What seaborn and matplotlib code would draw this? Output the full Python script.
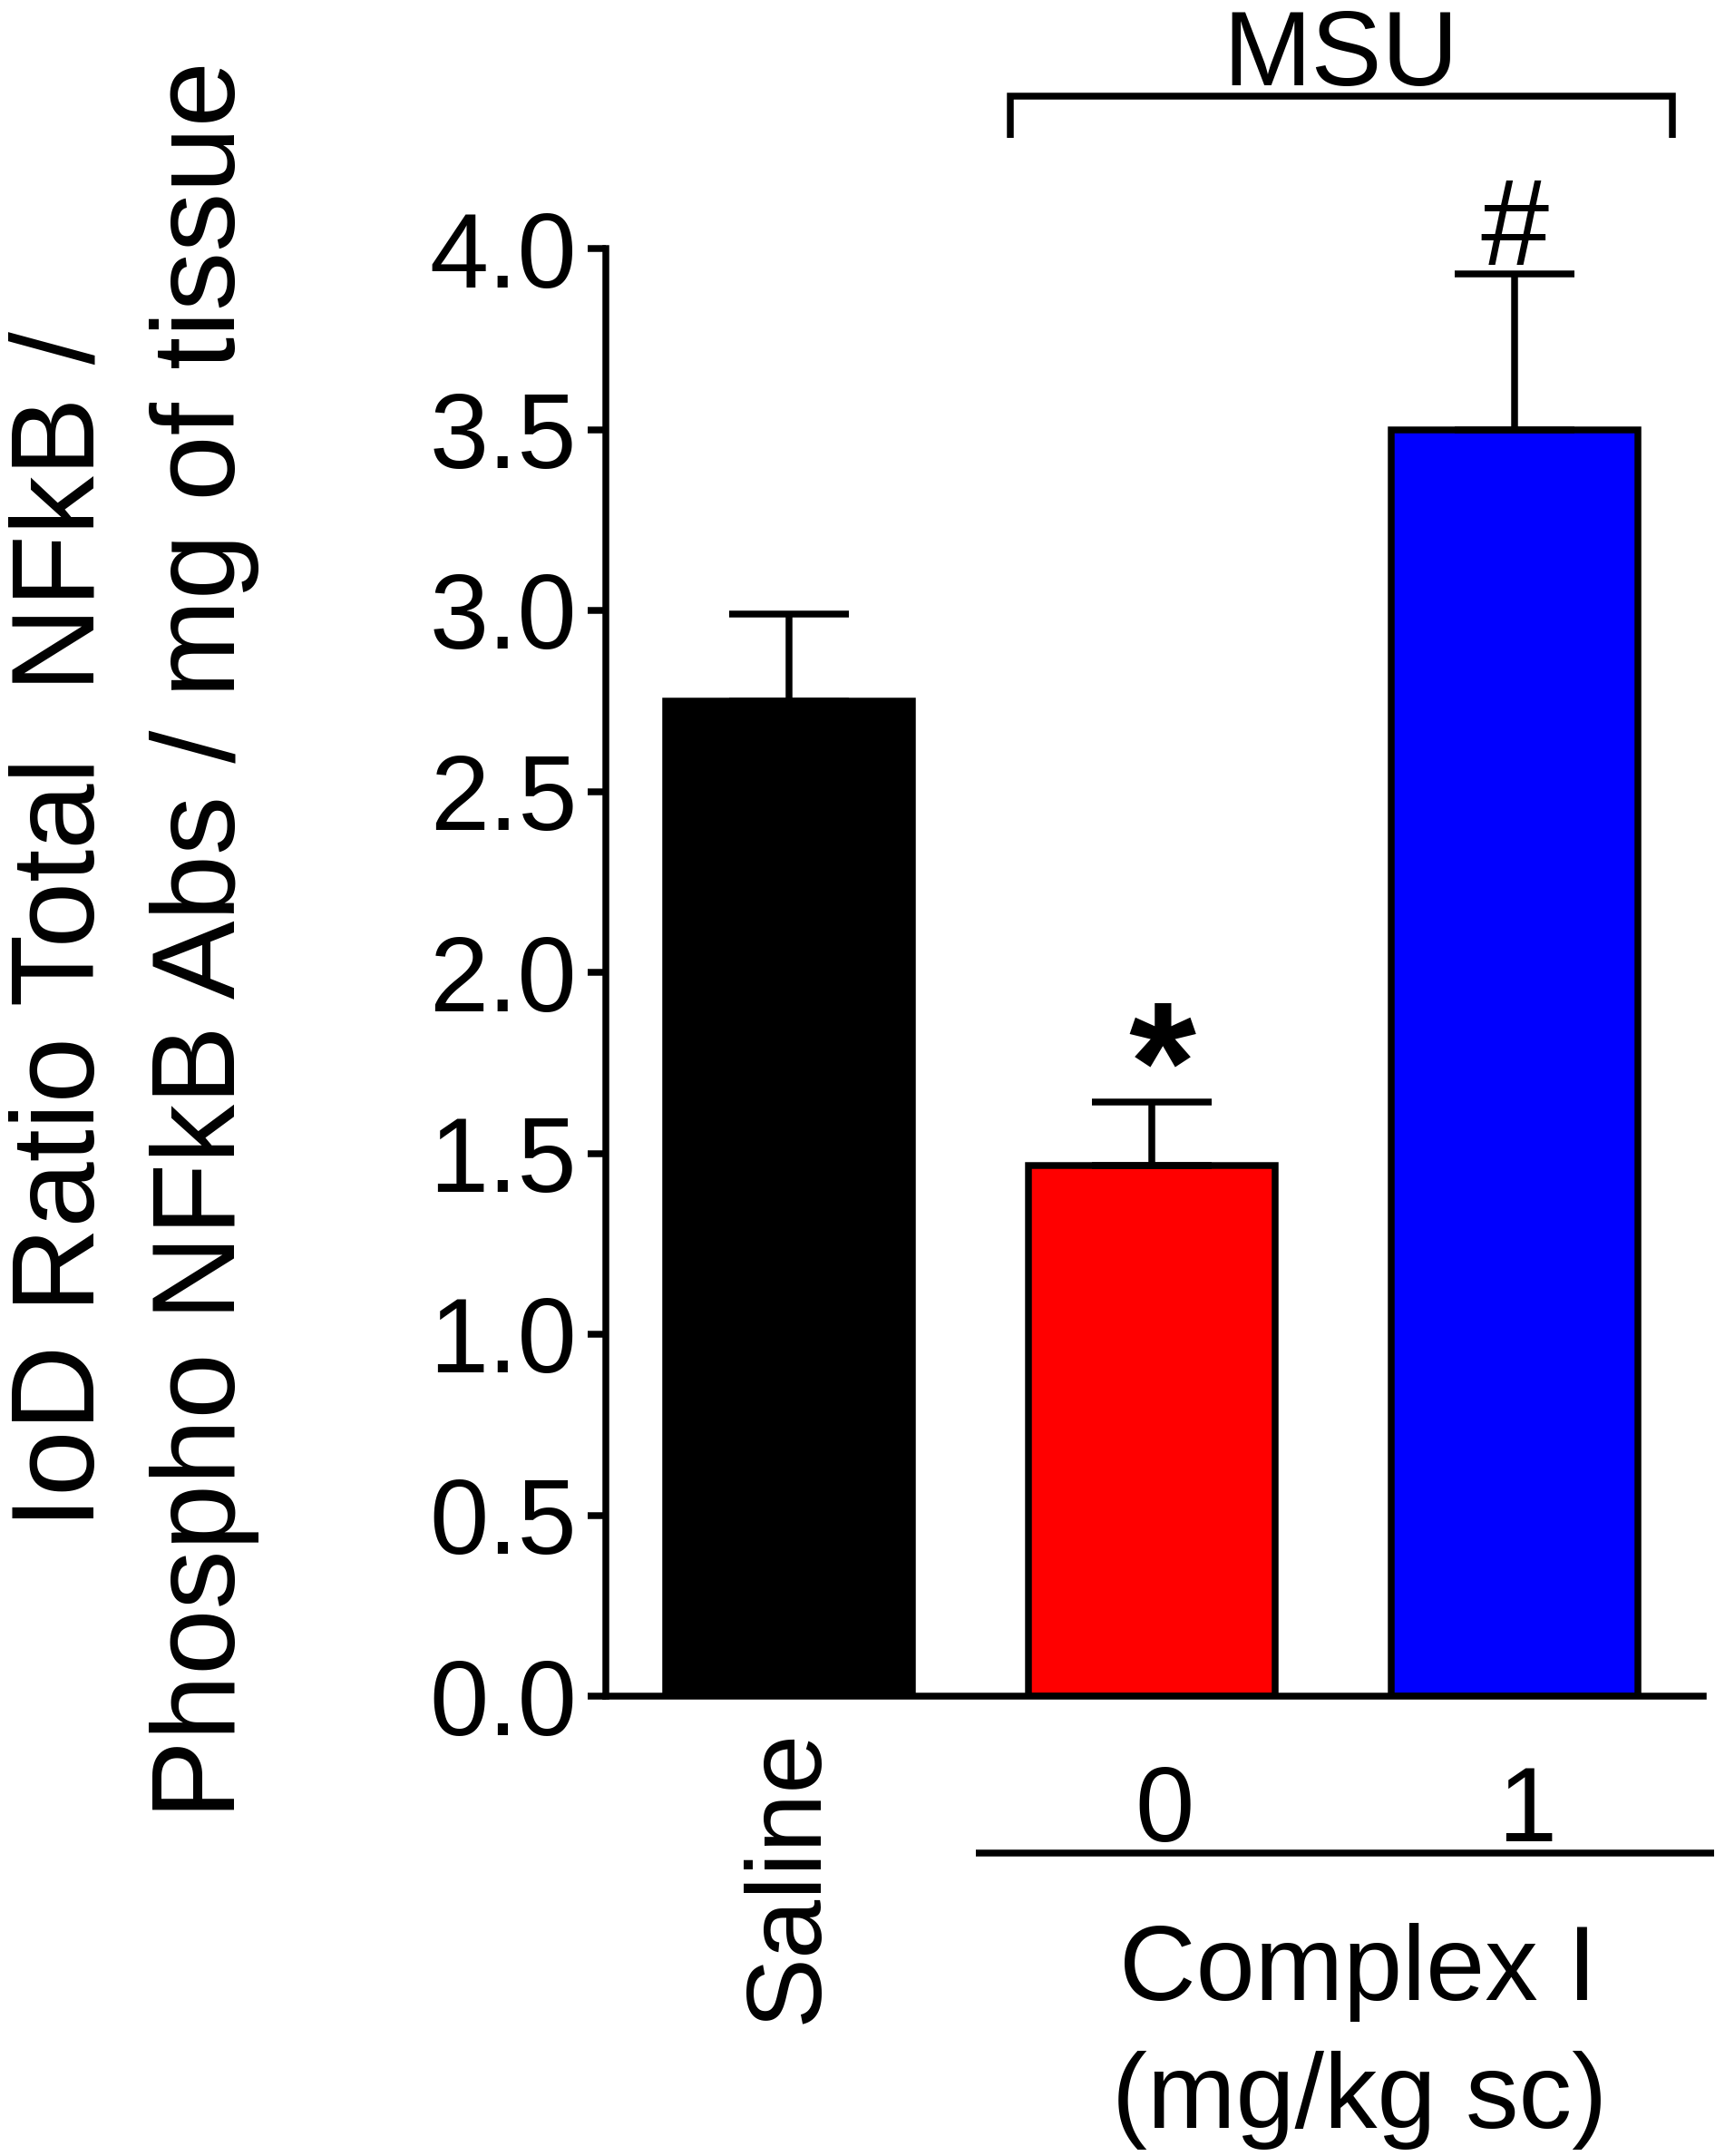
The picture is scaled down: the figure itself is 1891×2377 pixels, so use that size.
import matplotlib
matplotlib.use("Agg")
import matplotlib.pyplot as plt
import seaborn as sns
import pandas as pd

# data
groups = ["Saline", "0", "1"]
means = [2.75, 1.465, 3.50]
sems = [0.24, 0.177, 0.43]
bar_colors = ["#000000", "#ff0000", "#0000ff"]
yticks = [0.0, 0.5, 1.0, 1.5, 2.0, 2.5, 3.0, 3.5, 4.0]
marks = {1: "*", 2: "#"}

sns.set_theme(style="ticks")
plt.rcParams["font.family"] = ["Liberation Sans", "DejaVu Sans"]
plt.rcParams["text.color"] = "black"
plt.rcParams["axes.labelcolor"] = "black"
plt.rcParams["xtick.color"] = "black"
plt.rcParams["ytick.color"] = "black"

DPI = 72
W, H = 1891, 2377
LW = 7.5
FS = 117

fig = plt.figure(figsize=(W / DPI, H / DPI), dpi=DPI)
fig.patch.set_facecolor("white")
left, right, bottom, top = 668 / W, 1878 / W, 1 - 1870 / H, 1 - 274 / H
ax = fig.add_axes([left, bottom, right - left, top - bottom])

df = pd.DataFrame({"group": groups, "value": means})
sns.barplot(data=df, x="group", y="value", hue="group", palette=bar_colors,
            legend=False, width=0.68, edgecolor="black", linewidth=LW,
            errorbar=None, saturation=1, ax=ax)

# upper error bars only
ax.errorbar(range(len(groups)), means, yerr=[[0] * len(groups), sems],
            fmt="none", ecolor="black", elinewidth=LW, capsize=66,
            capthick=LW, zorder=1)

ax.set_ylim(0, 4.0)
ax.set_xlim(-0.505, 2.52)
ax.set_yticks(yticks)
ax.set_yticklabels([f"{t:.1f}" for t in yticks])
ax.tick_params(axis="y", length=20, width=LW, pad=12, labelsize=FS, colors="black")
ax.tick_params(axis="x", length=0, pad=36, labelsize=FS, colors="black")
ax.set_xticks([0])
ax.set_xticklabels([groups[0]], rotation=90, va="top", ha="center")
ax.set_xlabel("")
ax.set_ylabel("")
for s in ["top", "right"]:
    ax.spines[s].set_visible(False)
for s in ["left", "bottom"]:
    ax.spines[s].set_linewidth(LW)
    ax.spines[s].set_color("black")

# dose labels under the MSU bars
xt = ax.get_xaxis_transform()
for i in [1, 2]:
    ax.text(i + 0.035, -0.1003, groups[i], transform=xt, ha="center",
            va="baseline", fontsize=FS)
ax.plot([0.515, 2.55], [-0.1084, -0.1084], transform=xt, color="black",
        lw=LW, clip_on=False, solid_capstyle="butt")
fig.text(1497 / W, 1 - 2205 / H, "Complex I", ha="center", va="baseline", fontsize=FS)
fig.text(1499 / W, 1 - 2346 / H, "(mg/kg sc)", ha="center", va="baseline", fontsize=FS)

# significance marks
ax.text(1.028, 1.59, marks[1], ha="center", va="baseline", fontsize=190,
        fontweight="bold")
ax.text(2, 3.955, marks[2], ha="center", va="baseline", fontsize=135)

# MSU bracket
ax.plot([0.61, 0.61, 2.435, 2.435], [4.305, 4.421, 4.421, 4.305], color="black",
        lw=LW, clip_on=False, solid_joinstyle="miter", solid_capstyle="butt")
ax.text(1.52, 4.451, "MSU", ha="center", va="baseline", fontsize=FS)

# y axis title, two lines
fig.text(104 / W, 1 - 1025 / H, "IoD Ratio Total  NFkB /", rotation=90,
         rotation_mode="anchor", ha="center", va="baseline", fontsize=130)
fig.text(259 / W, 1 - 1036 / H, "Phospho NFkB Abs / mg of tissue", rotation=90,
         rotation_mode="anchor", ha="center", va="baseline", fontsize=130)

fig.savefig("out.png", dpi=DPI, facecolor="white")
